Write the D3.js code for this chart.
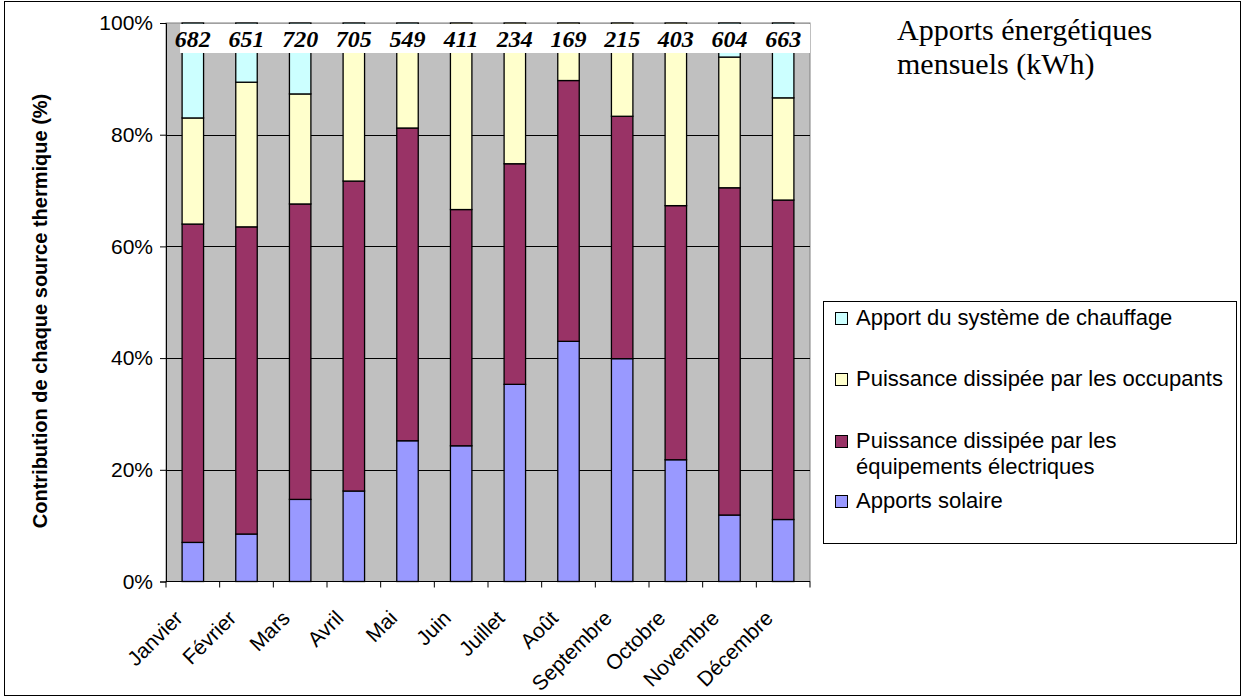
<!DOCTYPE html>
<html>
<head>
<meta charset="utf-8">
<script src="https://cdn.jsdelivr.net/npm/d3@7/dist/d3.min.js"></script>
<style>
  body { margin: 0; background: #fff; }
</style>
</head>
<body>
<div id="chart"></div>
<script>
// categories
var months = ["Janvier", "Février", "Mars", "Avril", "Mai", "Juin", "Juillet", "Août", "Septembre", "Octobre", "Novembre", "Décembre"];
// monthly totals (kWh)
var totals = [682, 651, 720, 705, 549, 411, 234, 169, 215, 403, 604, 663];
// share of each source (%)
var solaire     = [7.0, 8.5, 14.7, 16.2, 25.2, 24.3, 35.3, 43.0, 39.9, 21.8, 11.9, 11.1];
var equipements = [57.0, 55.0, 52.9, 55.5, 56.0, 42.3, 39.5, 46.7, 43.4, 45.5, 58.6, 57.2];
var occupants   = [19.0, 25.9, 19.7, 25.3, 16.8, 33.4, 25.2, 10.3, 16.7, 32.7, 23.4, 18.3];
var chauffage   = [17.0, 10.6, 12.7, 3.0, 2.0, 0, 0, 0, 0, 0, 6.1, 13.4];
var yTicks = [0, 20, 40, 60, 80, 100];

var seriesKeys = ["solaire", "equipements", "occupants", "chauffage"];
var seriesColors = {solaire: "#9999FF", equipements: "#993366", occupants: "#FFFFCC", chauffage: "#CCFFFF"};
var legendItems = [
  {key: "chauffage", lines: ["Apport du système de chauffage"]},
  {key: "occupants", lines: ["Puissance dissipée par les occupants"]},
  {key: "equipements", lines: ["Puissance dissipée par les", "équipements électriques"]},
  {key: "solaire", lines: ["Apports solaire"]}
];

var W = 1247, H = 699;
var margin = {top: 23, left: 166},
    width = 644,
    height = 558.5;

var table = months.map(function(m, i) {
  return {month: m, total: totals[i], solaire: solaire[i], equipements: equipements[i],
          occupants: occupants[i], chauffage: chauffage[i]};
});

var svg = d3.select("#chart").append("svg")
  .attr("width", W).attr("height", H)
  .style("font-family", "'Liberation Sans', Arial, sans-serif");

// outer frame
svg.append("rect").attr("x", 4.5).attr("y", 1.5).attr("width", 1236).attr("height", 694)
  .attr("fill", "none").attr("stroke", "#000").attr("stroke-width", 1);

var g = svg.append("g").attr("transform", "translate(" + margin.left + "," + margin.top + ")");

var x = d3.scaleBand().domain(months).range([0, width]).paddingInner(0.6).paddingOuter(0.3);
var xb = d3.scaleBand().domain(months).range([0, width]);
var y = d3.scaleLinear().domain([0, 100]).range([height, 0]);

// plot background
g.append("rect").attr("width", width).attr("height", height)
  .attr("fill", "#C0C0C0").attr("stroke", "#808080").attr("stroke-width", 1);

// grid
g.selectAll(".grid").data(yTicks.filter(function(d) { return d > 0 && d < 100; }))
  .enter().append("line")
  .attr("x1", 0).attr("x2", width)
  .attr("y1", function(d) { return Math.round(y(d)) + 0.5; })
  .attr("y2", function(d) { return Math.round(y(d)) + 0.5; })
  .attr("stroke", "#000").attr("stroke-width", 1);

// stacked bars
var stacked = d3.stack().keys(seriesKeys)(table);
g.selectAll(".serie").data(stacked).enter().append("g")
  .attr("fill", function(d) { return seriesColors[d.key]; })
  .selectAll("rect").data(function(d) { return d; }).enter().append("rect")
  .filter(function(d) { return d[1] - d[0] > 0; })
  .attr("x", function(d) { return x(d.data.month); })
  .attr("y", function(d) { return y(d[1]); })
  .attr("width", x.bandwidth())
  .attr("height", function(d) { return y(d[0]) - y(d[1]); })
  .attr("stroke", "#000").attr("stroke-width", 1.3);

// white band with totals
g.append("rect")
  .attr("x", x(months[0]) - 2).attr("y", 1)
  .attr("width", width - x(months[0]) + 2).attr("height", 29)
  .attr("fill", "#fff");

g.selectAll(".total").data(table).enter().append("text")
  .attr("x", function(d) { return x(d.month) + x.bandwidth() / 2; })
  .attr("y", 24)
  .attr("text-anchor", "middle")
  .style("font-family", "'Liberation Serif', 'Times New Roman', serif")
  .style("font-weight", "bold").style("font-style", "italic")
  .style("font-size", "24px")
  .text(function(d) { return d.total; });

// axes
var yAxis = g.append("g").call(d3.axisLeft(y).tickValues(yTicks).tickSize(6).tickFormat(function(d) { return d + "%"; }));
yAxis.select(".domain").attr("stroke", "#000");
yAxis.selectAll("text").style("font-size", "21px").style("font-family", "'Liberation Sans', Arial, sans-serif")
  .attr("x", -13).attr("fill", "#000");

var xAxisG = g.append("g").attr("transform", "translate(0," + height + ")");
xAxisG.append("line").attr("x1", 0).attr("x2", width).attr("y1", 0).attr("y2", 0).attr("stroke", "#000");
xAxisG.selectAll(".tick").data(months.concat(["end"])).enter().append("line")
  .attr("x1", function(d, i) { return i < months.length ? xb(d) : width; })
  .attr("x2", function(d, i) { return i < months.length ? xb(d) : width; })
  .attr("y1", 0).attr("y2", 6).attr("stroke", "#000");
xAxisG.selectAll(".mlabel").data(months).enter().append("text")
  .attr("transform", function(d) {
    return "translate(" + (xb(d) + xb.bandwidth() / 2 - 9) + ",38) rotate(-45)";
  })
  .attr("text-anchor", "end")
  .style("font-size", "21px")
  .text(function(d) { return d; });

// y title
svg.append("text")
  .attr("transform", "translate(47,311) rotate(-90)")
  .attr("text-anchor", "middle")
  .style("font-size", "20px").style("font-weight", "bold")
  .text("Contribution de chaque source thermique (%)");

// chart title
var title = svg.append("text")
  .style("font-family", "'Liberation Serif', 'Times New Roman', serif")
  .style("font-size", "30px");
title.append("tspan").attr("x", 897).attr("y", 40).text("Apports énergétiques");
title.append("tspan").attr("x", 897).attr("y", 74).text("mensuels (kWh)");

// legend
var legend = svg.append("g");
legend.append("rect").attr("x", 823.5).attr("y", 301.5).attr("width", 1413).attr("height", 242)
  .attr("width", 413)
  .attr("fill", "#fff").attr("stroke", "#000").attr("stroke-width", 1);
var rowY = [325, 386, 448, 508];
legendItems.forEach(function(item, i) {
  legend.append("rect")
    .attr("x", 835.5).attr("y", rowY[i] - 12.5).attr("width", 12).attr("height", 12)
    .attr("fill", seriesColors[item.key]).attr("stroke", "#000").attr("stroke-width", 1);
  item.lines.forEach(function(line, j) {
    legend.append("text").attr("x", 856).attr("y", rowY[i] + j * 26)
      .style("font-size", "22px").text(line);
  });
});
</script>
</body>
</html>
